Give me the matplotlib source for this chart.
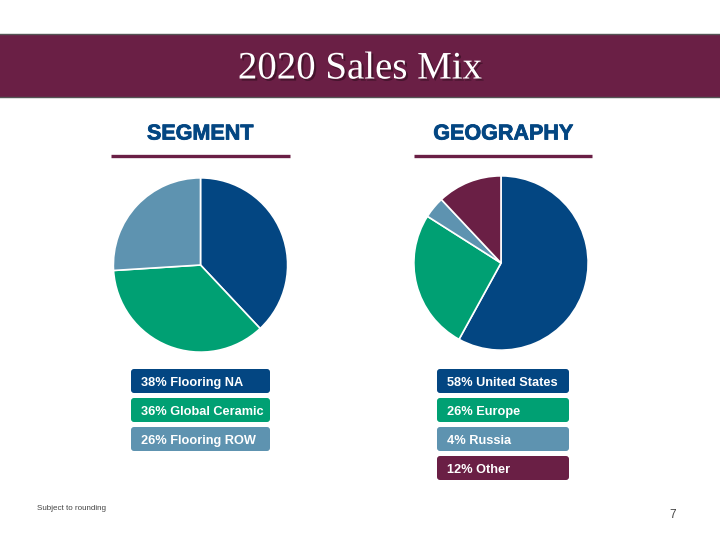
import matplotlib.pyplot as plt
import matplotlib.patheffects as pe
from matplotlib.patches import Rectangle, FancyBboxPatch

# Datos
segment_labels = ['Flooring NA', 'Global Ceramic', 'Flooring ROW']
segment_values = [38, 36, 26]
geo_labels = ['United States', 'Europe', 'Russia', 'Other']
geo_values = [58, 26, 4, 12]

azul = '#034682'
verde = '#00A073'
acero = '#5E93B0'
granate = '#6A1F45'
segment_colors = [azul, verde, acero]
geo_colors = [azul, verde, acero, granate]

fig = plt.figure(figsize=(7.2, 5.4), dpi=100)
fig.patch.set_facecolor('white')

# Eje de fondo en pixeles
ax = fig.add_axes([0, 0, 1, 1])
ax.set_xlim(0, 720)
ax.set_ylim(540, 0)
ax.axis('off')

# Banda del titulo
ax.add_patch(Rectangle((-2, 34), 724, 63, facecolor=granate, edgecolor='#555555', linewidth=1))
ax.text(360, 69, '2020 Sales Mix', color='white', fontsize=28, family='Liberation Serif',
        ha='center', va='center',
        path_effects=[pe.withSimplePatchShadow(offset=(1.5, -1.5), shadow_rgbFace='black', alpha=0.35)])

# Encabezados
def encabezado(x, texto, x0, x1):
    ax.text(x, 134, texto, color=azul, fontsize=15.5, fontweight='bold',
            family='Liberation Sans', ha='center', va='center',
            path_effects=[pe.withStroke(linewidth=0.6, foreground=azul)])
    ax.plot([x0, x1], [155.5, 155.5], color=granate, linewidth=2.4, solid_capstyle='butt')

encabezado(200, 'SEGMENT', 111, 290)
encabezado(503, 'GEOGRAPHY', 414, 592)

# Pasteles
def pastel(cx, cy, r, valores, colores):
    pax = fig.add_axes([(cx - r) / 720, (540 - cy - r) / 540, 2 * r / 720, 2 * r / 540])
    pax.pie(valores, colors=colores, startangle=90, counterclock=False,
            wedgeprops=dict(edgecolor='white', linewidth=1.2))
    pax.set_xlim(-1.01, 1.01)
    pax.set_ylim(-1.01, 1.01)
    pax.set_aspect('equal')
    pax.axis('off')

pastel(200.5, 265, 88, segment_values, segment_colors)
pastel(501, 263, 88, geo_values, geo_colors)

# Cajas de leyenda
def cajas(x, ancho, etiquetas, valores, colores):
    y = 369
    for et, v, c in zip(etiquetas, valores, colores):
        ax.add_patch(FancyBboxPatch((x, y), ancho, 24, boxstyle='round,pad=0,rounding_size=3',
                                    facecolor=c, edgecolor='none'))
        ax.text(x + 10, y + 12.5, f'{v}% {et}', color='white', fontsize=9.2, fontweight='bold',
                family='Liberation Sans', ha='left', va='center_baseline')
        y += 29

cajas(131, 139, segment_labels, segment_values, segment_colors)
cajas(437, 132, geo_labels, geo_values, geo_colors)

# Pie de pagina
ax.text(37, 509, 'Subject to rounding', color='#444444', fontsize=5.8, family='Liberation Sans',
        ha='left', va='center')
ax.text(673, 515, '7', color='#444444', fontsize=8.5, family='Liberation Sans', ha='center', va='center')

fig.savefig('out.png', dpi=100, facecolor='white')
